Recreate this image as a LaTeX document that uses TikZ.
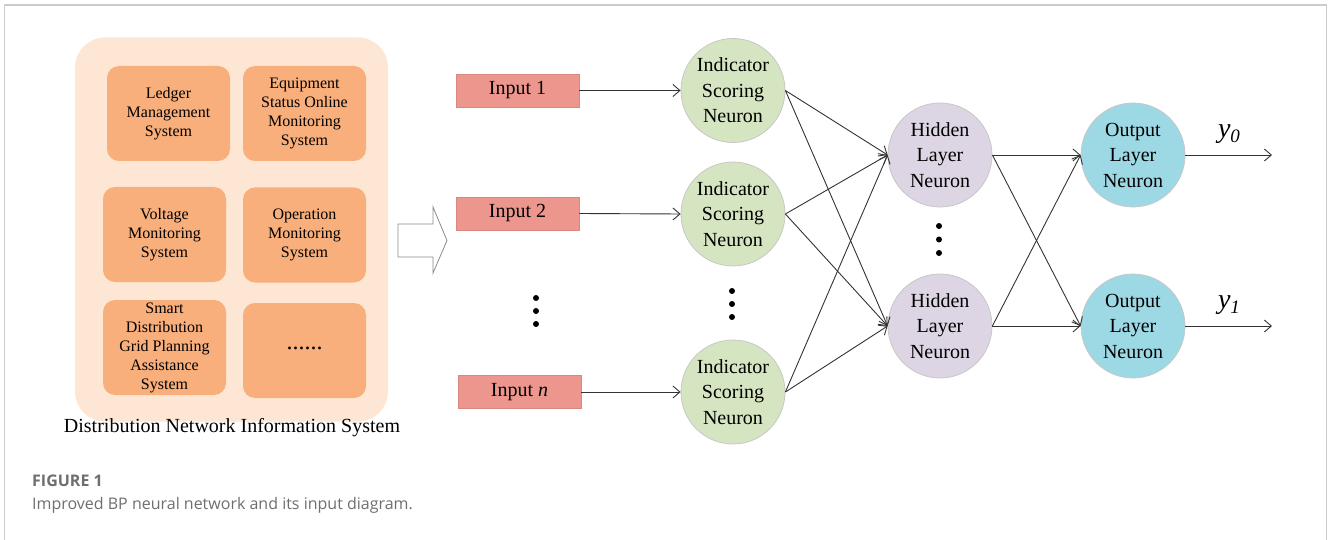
\documentclass[tikz,border=0pt]{standalone}
\usepackage{fontspec}
\setmainfont{Liberation Serif}
\newfontfamily\capfont{Open Sans}
\usetikzlibrary{arrows.meta}
\definecolor{peach}{HTML}{FDE6D4}
\definecolor{orangebox}{HTML}{F9AF7B}
\definecolor{salmon}{HTML}{EC968E}
\definecolor{salmonedge}{HTML}{D98880}
\definecolor{greenn}{HTML}{D6E5C1}
\definecolor{lav}{HTML}{DDD5E4}
\definecolor{cyann}{HTML}{9DD9E5}
\definecolor{framegray}{HTML}{CBCBCB}
\definecolor{capgray}{HTML}{6E6E6E}
\begin{document}
\begin{tikzpicture}[x=1pt,y=-1pt,
  sysbox/.style={fill=orangebox, rounded corners=12pt, minimum width=123pt, minimum height=95pt,
    align=center, font=\fontsize{16}{19}\selectfont, inner sep=0pt},
  inbox/.style={fill=salmon, draw=salmonedge, line width=0.8pt, minimum width=123pt, minimum height=33pt,
    inner sep=0pt, font=\fontsize{20}{24}\selectfont},
  neuron/.style={circle, minimum size=104pt, inner sep=0pt, align=center,
    font=\fontsize{20}{25.5}\selectfont, draw=black!22, line width=0.8pt},
  ind/.style={neuron, fill=greenn},
  hid/.style={neuron, fill=lav},
  outn/.style={neuron, fill=cyann},
  conn/.style={draw=black!80, line width=0.9pt, -{Straight Barb[length=7pt,width=12pt]}},
  dotmark/.style={fill=black},
  caption/.style={anchor=west, inner sep=0pt, text=capgray, font=\capfont\fontsize{16}{19}\selectfont}
]
\useasboundingbox (0,0) rectangle (1328,540);
% frame
\draw[framegray, line width=1.5pt] (4.5,540) -- (4.5,5) -- (1326.5,5) -- (1326.5,540);

% left system container
\node[fill=peach, rounded corners=30pt, minimum width=313pt, minimum height=384pt, inner sep=0pt] (dnis) at (231.5,229.5) {};
\node[sysbox] (ledger) at (168.5,113.5) {Ledger\\Management\\System};
\node[sysbox] (equip) at (304.5,113.5) {Equipment\\Status Online\\Monitoring\\System};
\node[sysbox] (volt) at (164.5,234.5) {Voltage\\Monitoring\\System};
\node[sysbox] (oper) at (304.5,235) {Operation\\Monitoring\\System};
\node[sysbox] (smart) at (164.5,347.5) {Smart\\Distribution\\Grid Planning\\Assistance\\System};
\node[sysbox, font=\fontsize{24}{24}\selectfont] (more) at (304.5,350.5) {\raisebox{4pt}{......}};
\node[font=\fontsize{20}{24}\selectfont, inner sep=0pt] (dnislabel) at (232,428) {Distribution Network Information System};

% hollow arrow
\draw[black!45, line width=0.8pt, fill=white] (398,224) -- (433,224) -- (433,207) -- (447,240.5)
  -- (433,273) -- (433,257) -- (398,257) -- cycle;

% inputs
\node[inbox] (in1) at (517.5,90.5) {Input 1};
\node[inbox] (in2) at (517.5,213.5) {Input 2};
\node[inbox] (inn) at (519.5,392) {Input \textit{n}};
\foreach \y in {298,311,324} \fill[dotmark] (536,\y) circle (3pt);

% indicator neurons
\node[ind] (ind1) at (733,90.5) {Indicator\\Scoring\\Neuron};
\node[ind] (ind2) at (733,214) {Indicator\\Scoring\\Neuron};
\node[ind] (ind3) at (733,392) {Indicator\\Scoring\\Neuron};
\foreach \y in {291,304,317} \fill[dotmark] (732,\y) circle (3pt);

% hidden neurons
\node[hid] (hid1) at (940,155) {Hidden\\Layer\\Neuron};
\node[hid] (hid2) at (940,326) {Hidden\\Layer\\Neuron};
\foreach \y in {226,239.5,253} \fill[dotmark] (939,\y) circle (3pt);

% output neurons
\node[outn] (out1) at (1133,155) {Output\\Layer\\Neuron};
\node[outn] (out2) at (1133,326) {Output\\Layer\\Neuron};

% connectors
\draw[conn] (in1.east) -- (ind1.west);
\draw[conn] (in2.east) -- (ind2.west);
\draw[conn] (inn.east) -- (ind3.west);
\foreach \a in {ind1,ind2,ind3}
  \foreach \b in {hid1,hid2}
    \draw[conn] (\a.east) -- (\b.west);
\foreach \a in {hid1,hid2}
  \foreach \b in {out1,out2}
    \draw[conn] (\a.east) -- (\b.west);
\coordinate (y0end) at (1272,155);
\coordinate (y1end) at (1272,326);
\draw[conn] (out1.east) -- (y0end);
\draw[conn] (out2.east) -- (y1end);
\node[inner sep=0pt] (y0) at (1229,134) {{\fontsize{28}{28}\selectfont\itshape y}\raisebox{-5pt}{\fontsize{19}{19}\selectfont\itshape 0}};
\node[inner sep=0pt] (y1) at (1229,305) {{\fontsize{28}{28}\selectfont\itshape y}\raisebox{-5pt}{\fontsize{19}{19}\selectfont\itshape 1}};

% caption
\node[caption, font=\capfont\bfseries\fontsize{16}{19}\selectfont] (figlabel) at (32,481) {FIGURE 1};
\node[caption] (figtext) at (32,505) {Improved BP neural network and its input diagram.};
\end{tikzpicture}
\end{document}
